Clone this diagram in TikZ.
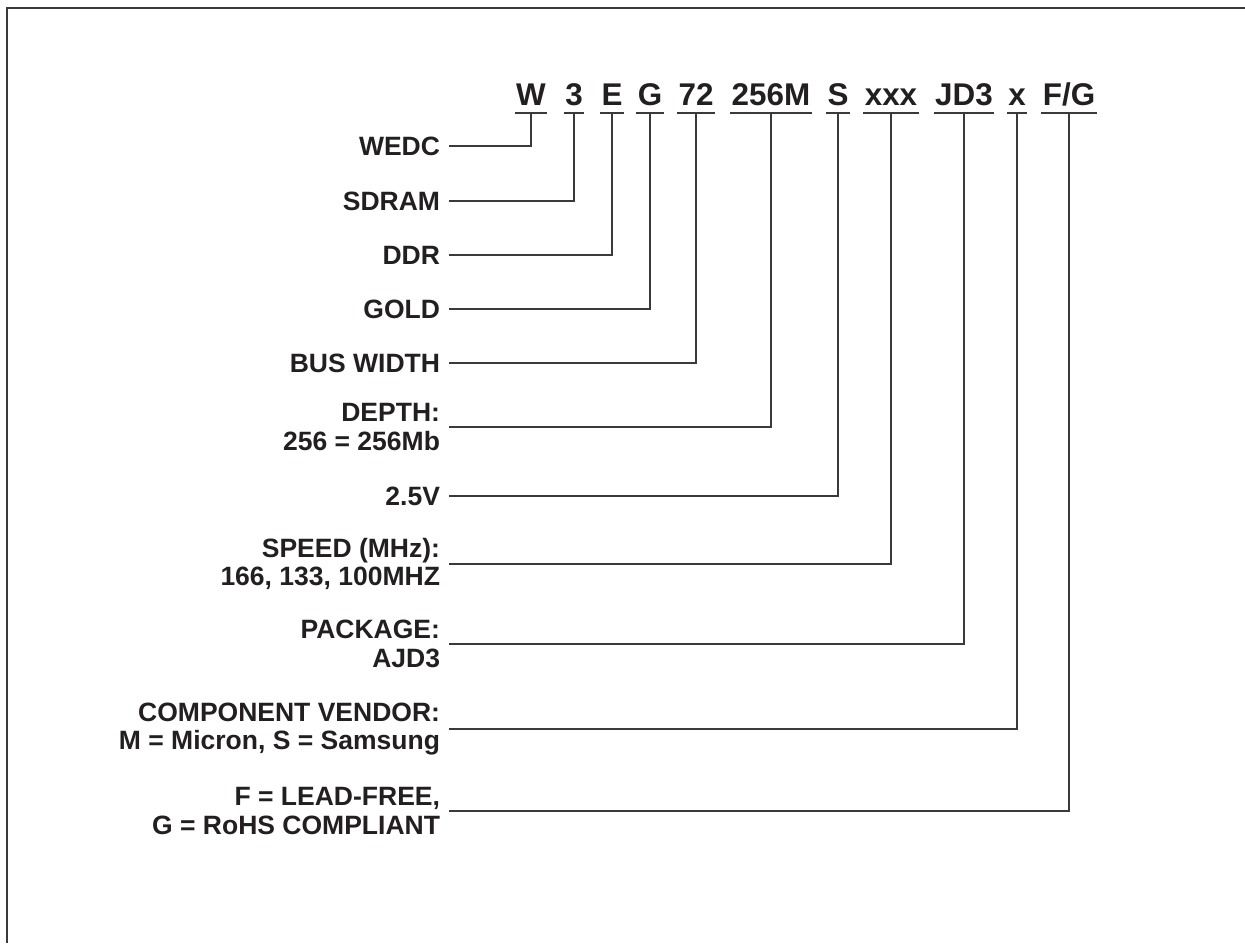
\documentclass[tikz,border=0pt]{standalone}
\usepackage{fontspec}
\setmainfont{Liberation Sans}
\definecolor{txt}{HTML}{231F20}
\definecolor{lnc}{HTML}{3A3A3A}
\begin{document}
\begin{tikzpicture}[x=1pt,y=-1pt,
  code/.style={font=\fontsize{31.4}{34}\selectfont\bfseries, text=txt, inner xsep=1.5pt, inner ysep=0pt, outer sep=0pt, anchor=base},
  lab/.style={font=\fontsize{26.5}{28.5}\selectfont\bfseries, text=txt, align=right, inner sep=0pt, outer sep=0pt, anchor=east},
  ln/.style={draw=lnc, line width=1.4pt},
  frame/.style={draw=lnc, line width=2pt}]
\useasboundingbox (0,0) rectangle (1245,943);
\draw[frame] (7,943) -- (7,8) -- (1245,8);
\coordinate (ul) at (0,113);
% codes
\node[code] (cW) at (531,105) {W};
\node[code] (c3) at (574,105) {3};
\node[code] (cE) at (612,105) {E};
\node[code] (cG) at (650,105) {G};
\node[code] (c72) at (696,105) {72};
\node[code] (cM) at (771,105) {256M};
\node[code] (cS) at (838,105) {S};
\node[code] (cx3) at (891,105) {xxx};
\node[code] (cJ) at (964,105) {JD3};
\node[code] (cx) at (1017,105) {x};
\node[code] (cF) at (1069,105) {F/G};
\foreach \n in {cW,c3,cE,cG,c72,cM,cS,cx3,cJ,cx,cF}
  \draw[ln] (\n.west |- ul) -- (\n.east |- ul);
% labels
\node[lab] (lW) at (440,146) {WEDC};
\node[lab] (l3) at (440,201) {SDRAM};
\node[lab] (lE) at (440,255) {DDR};
\node[lab] (lG) at (440,309) {GOLD};
\node[lab] (l72) at (440,363) {BUS WIDTH};
\node[lab] (lM) at (440,427) {DEPTH:\\256 = 256Mb};
\node[lab] (lS) at (440,496) {2.5V};
\node[lab] (lx3) at (440,564) {SPEED (MHz):\\166, 133, 100MHZ};
\node[lab] (lJ) at (440,644) {PACKAGE:\\AJD3};
\node[lab] (lx) at (440,729) {COMPONENT VENDOR:\\M = Micron, S = Samsung};
\node[lab] (lF) at (440,811) {F = LEAD-FREE,\\G = RoHS COMPLIANT};
% connectors
\draw[ln] ([xshift=9pt]lW.east) -| (cW.center |- ul);
\draw[ln] ([xshift=9pt]l3.east) -| (c3.center |- ul);
\draw[ln] ([xshift=9pt]lE.east) -| (cE.center |- ul);
\draw[ln] ([xshift=9pt]lG.east) -| (cG.center |- ul);
\draw[ln] ([xshift=9pt]l72.east) -| (c72.center |- ul);
\draw[ln] ([xshift=9pt]lM.east) -| (cM.center |- ul);
\draw[ln] ([xshift=9pt]lS.east) -| (cS.center |- ul);
\draw[ln] ([xshift=9pt]lx3.east) -| (cx3.center |- ul);
\draw[ln] ([xshift=9pt]lJ.east) -| (cJ.center |- ul);
\draw[ln] ([xshift=9pt]lx.east) -| (cx.center |- ul);
\draw[ln] ([xshift=9pt]lF.east) -| (cF.center |- ul);
\end{tikzpicture}
\end{document}
